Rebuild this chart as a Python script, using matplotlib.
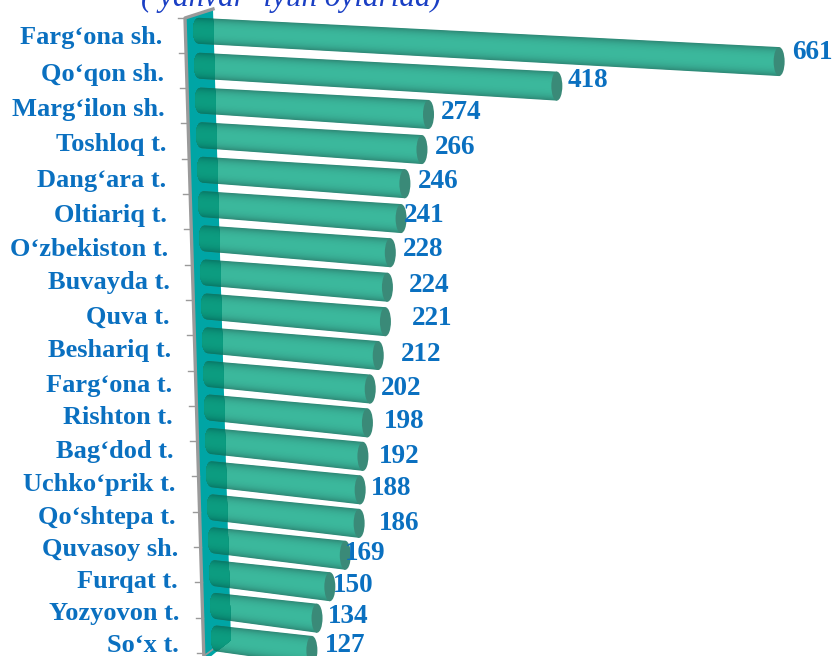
#!/usr/bin/env python3
# -*- coding: utf-8 -*-
import numpy as np
import matplotlib
matplotlib.use('Agg')
import matplotlib.pyplot as plt
from matplotlib.patches import Polygon, Ellipse

plt.rcParams['font.family'] = ['Liberation Serif', 'DejaVu Serif']

# --- data
districts = ['Farg‘ona sh.', 'Qo‘qon sh.', 'Marg‘ilon sh.', 'Toshloq t.', 'Dang‘ara t.',
             'Oltiariq t.', 'O‘zbekiston t.', 'Buvayda t.', 'Quva t.', 'Beshariq t.',
             'Farg‘ona t.', 'Rishton t.', 'Bag‘dod t.', 'Uchko‘prik t.', 'Qo‘shtepa t.',
             'Quvasoy sh.', 'Furqat t.', 'Yozyovon t.', 'So‘x t.']
values = [661, 418, 274, 266, 246, 241, 228, 224, 221, 212,
          202, 198, 192, 188, 186, 169, 150, 134, 127]
title = '( yanvar- iyun oylarida)'

# label placement (left edge of value label, centre heights of the rows)
value_x = [792, 568, 441, 435, 418, 404, 403, 409, 412, 401,
           381, 384, 379, 371, 379, 345, 333, 328, 325]
value_y = [52, 80, 112, 147, 181, 215, 249, 285, 318, 354,
           388, 421, 456, 488, 523, 553, 585, 616, 645]
name_x = [162, 164, 165, 166, 166, 167, 168, 170, 170, 171,
          172, 173, 174, 175, 176, 178, 178, 179, 179]
name_y = [36, 73, 108, 143, 179, 214, 248, 281, 316, 349,
          384, 416, 450, 483, 516, 548, 580, 612, 644]

blue = '#0a70c0'
teal = '#00a5a5'
grey = '#9a9a9a'
light_mid, light_edge = '#3bb89c', '#2f8a78'
dark_mid, dark_edge = '#0c9c80', '#087a68'


def mix(c1, c2, w):
    a = np.array(matplotlib.colors.to_rgb(c1))
    b = np.array(matplotlib.colors.to_rgb(c2))
    return tuple(a * (1 - w) + b * w)


def bar_shape(i, v):
    # rough perspective: scale and slope change down the rows
    x0 = 193 + i
    k = 0.862 - 0.0017 * i + 0.00005 * v
    xe = x0 + k * v
    y0 = 30.5 + 35 * i - 0.07 * i * i
    slope = 0.053 + 0.004 * i
    return x0, xe, y0, slope


def band(i, v, a, b, rx=5.5, half0=13, half1=14.5):
    """outline of the cylinder between across-positions a and b (-1 top, 1 bottom)"""
    x0, xe, y0, slope = bar_shape(i, v)
    right = xe - rx
    pts = []
    for t in np.linspace(a, b, 25):
        x = x0 + rx - rx * np.sqrt(max(1 - t * t, 0))
        pts.append((x, y0 + (x - x0) * slope + t * half0))
    pts.append((right, y0 + (right - x0) * slope + b * half1))
    pts.append((right, y0 + (right - x0) * slope + a * half1))
    return pts


fig = plt.figure(figsize=(8.34, 6.56), dpi=100)
ax = fig.add_axes([0, 0, 1, 1])
ax.set_xlim(0, 834)
ax.set_ylim(656, 0)
ax.axis('off')

# back wall
wall_pts = [(185, 18), (213, 9), (231, 640), (204, 662)]
ax.add_patch(Polygon(wall_pts, closed=True, fc=teal, ec='none', zorder=1))
ax.plot([213, 185, 204], [9, 18, 662], color=grey, lw=2.4, zorder=1.5)
ax.plot([204, 231], [656, 636], color=grey, lw=1.2, zorder=1.5)
clip = Polygon(wall_pts, closed=True, fc='none', ec='none', transform=ax.transData)
ax.add_patch(clip)

# ticks on the wall
for i in range(len(values) + 1):
    yt = 17.5 + 35.3 * i
    xt = 185 + (yt - 18) * 19 / 644
    ax.plot([xt - 7, xt], [yt, yt], color=grey, lw=1, zorder=1.4)

# bars, nested outlines from the rim to the highlight
c = 0.0
steps = np.linspace(1, 0.02, 24)
for i, v in enumerate(values):
    for j, s in enumerate(steps):
        a, b = c - (c + 1) * s, c + (1 - c) * s
        w = min(s ** 3, 1)
        ax.add_patch(Polygon(band(i, v, a, b), closed=True, fc=mix(light_mid, light_edge, w),
                             ec='none', zorder=2 + j * 0.001))
        dk = Polygon(band(i, v, a, b), closed=True, fc=mix(dark_mid, dark_edge, w),
                     ec='none', zorder=2.1 + j * 0.001)
        ax.add_patch(dk)
        dk.set_clip_path(clip)
    x0, xe, y0, slope = bar_shape(i, v)
    ax.add_patch(Ellipse((xe - 5.5, y0 + (xe - 5.5 - x0) * slope), 11, 29,
                         fc='#3a8a78', ec='none', zorder=2.2))

# text
for name, x, y in zip(districts, name_x, name_y):
    ax.text(x, y + 8, name, ha='right', va='baseline', color=blue, fontsize=19, fontweight='bold', zorder=4)
for v, x, y in zip(values, value_x, value_y):
    ax.text(x, y + 7, str(v), ha='left', va='baseline', color=blue, fontsize=19.5, fontweight='bold', zorder=4)
ax.text(141, 6, title, ha='left', va='baseline', color='#1a3fc4', fontsize=22.4, style='italic', zorder=4)

fig.savefig('out.png', dpi=100)
